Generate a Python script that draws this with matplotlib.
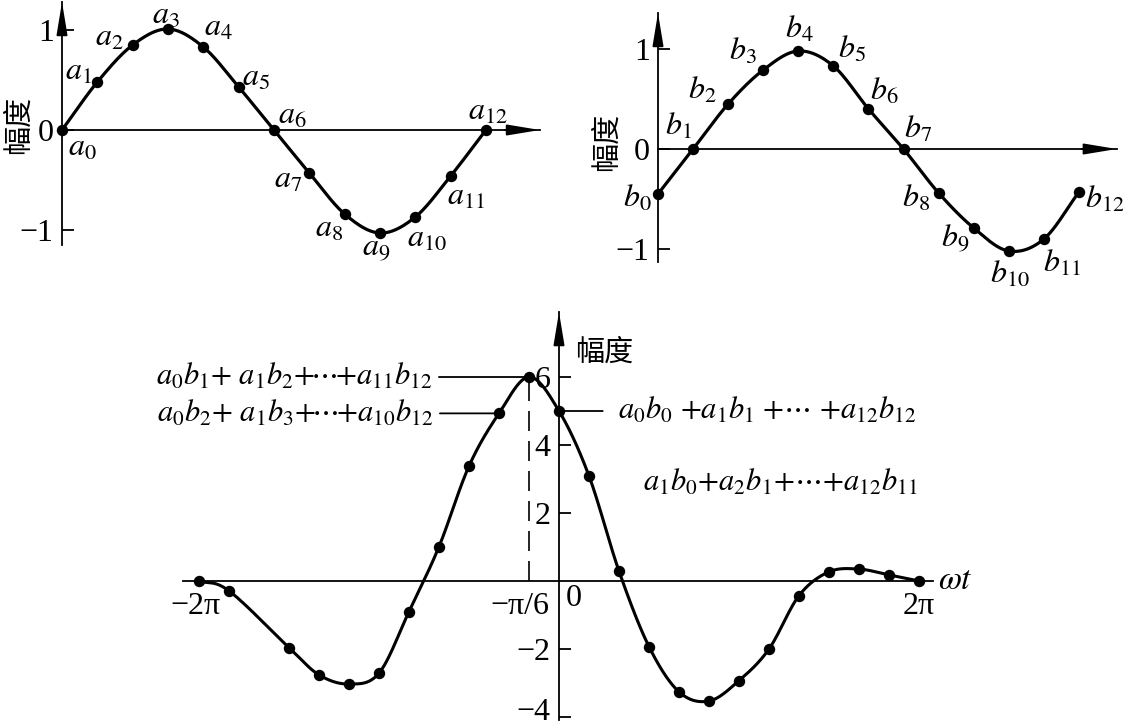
import numpy as np
import matplotlib
matplotlib.use('Agg')
import matplotlib.pyplot as plt
from matplotlib.transforms import ScaledTranslation

plt.rcParams['font.family'] = ['Liberation Serif', 'Noto Sans CJK SC']
plt.rcParams['mathtext.fontset'] = 'stix'

# sampled signals (13 samples over one period)
a_vals = [0.0, 0.48, 0.85, 1.01, 0.83, 0.43, 0.0, -0.43, -0.84, -1.03, -0.87, -0.46, 0.0]
b_vals = [-0.45, 0.0, 0.45, 0.79, 0.98, 0.83, 0.40, 0.0, -0.44, -0.79, -1.02, -0.90, -0.43]

# cross-correlation, lag in steps of pi/6
lag_steps = [-12, -11, -9, -8, -7, -6, -5, -4, -3, -2, -1, 0,
             1, 2, 3, 4, 5, 6, 7, 8, 9, 10, 11, 12]
corr_vals = [0.0, -0.29, -1.96, -2.76, -3.03, -2.71, -0.9, 1.01, 3.38, 4.93, 6.0, 5.0,
             3.09, 0.29, -1.93, -3.26, -3.53, -2.93, -2.0, -0.43, 0.27, 0.35, 0.18, 0.0]

top_yticks = [-1, 0, 1]
bottom_yticks = [-4, -2, 2, 4, 6]
bottom_xticks = [-2 * np.pi, -np.pi / 6, 2 * np.pi]
bottom_xlabels = ['−2π', '−π/6', '2π']
ylabel_text = '幅度'

sum_peak = r'$a_0b_1{+}\ a_1b_2{+}\!\cdots\!{+}a_{11}b_{12}$'
sum_lag2 = r'$a_0b_2{+}\ a_1b_3{+}\!\cdots\!{+}a_{10}b_{12}$'
sum_zero = r'$a_0b_0\ {+}a_1b_1\ {+}\cdots\ {+}a_{12}b_{12}$'
sum_next = r'$a_1b_0{+}a_2b_1{+}\cdots{+}a_{12}b_{11}$'

# label offsets in pixels (dx, dy up)
a_offsets = [(20, -18), (-19, 10), (-23, 7), (-2, 13), (15, 19), (17, 9), (18, 14),
             (-21, -7), (-16, -15), (-4, -17), (12, -22), (15, -21), (2, 18)]
b_offsets = [(-21, -5), (-15, 22), (-26, 13), (-20, 18), (1, 21), (19, 16), (16, 17),
             (14, 19), (-23, -6), (-19, -11), (1, -24), (18, -25), (26, -8)]

W, H = 1123, 725
FS = 23
FS_SUM = 22
FS_CJK = 21
fig = plt.figure(figsize=(W / 100, H / 100), dpi=100)


def smooth(x, y, n=24):
    # catmull-rom through the points
    p = np.column_stack([x, y]).astype(float)
    p = np.vstack([2 * p[0] - p[1], p, 2 * p[-1] - p[-2]])
    t = np.linspace(0, 1, n, endpoint=False)[:, None]
    out = []
    for i in range(1, len(p) - 2):
        p0, p1, p2, p3 = p[i - 1], p[i], p[i + 1], p[i + 2]
        seg = 0.5 * (2 * p1 + (-p0 + p2) * t + (2 * p0 - 5 * p1 + 4 * p2 - p3) * t ** 2
                     + (-p0 + 3 * p1 - 3 * p2 + p3) * t ** 3)
        out.append(seg)
    out.append(p[-2][None])
    out = np.vstack(out)
    return out[:, 0], out[:, 1]


def make_axes(box, origin, scale):
    x0, y0, x1, y1 = box
    ox, oy = origin
    sx, sy = scale
    ax = fig.add_axes([x0 / W, 1 - y1 / H, (x1 - x0) / W, (y1 - y0) / H])
    ax.set_xlim((x0 - ox) / sx, (x1 - ox) / sx)
    ax.set_ylim((oy - y1) / sy, (oy - y0) / sy)
    ax.patch.set_visible(False)
    ax.spines['top'].set_visible(False)
    ax.spines['right'].set_visible(False)
    ax.spines['left'].set_position(('data', 0))
    ax.spines['bottom'].set_position(('data', 0))
    for s in ['left', 'bottom']:
        ax.spines[s].set_linewidth(1.3)
    ax.tick_params(axis='y', direction='in', length=8.5, width=1.3, pad=6, labelsize=FS)
    ax.tick_params(axis='x', length=0, labelsize=FS)
    return ax


def arrow(ax, start, end):
    ax.annotate('', xy=end, xytext=start,
                arrowprops=dict(arrowstyle='-|>,head_length=2.0,head_width=0.33',
                                mutation_scale=10, lw=1.3, color='k',
                                shrinkA=0, shrinkB=0))


def shift(label, dx, dy):
    label.set_transform(label.get_transform() + ScaledTranslation(dx / 100, dy / 100, fig.dpi_scale_trans))


def sample_panel(ax, vals, name, offsets, xend, ylo, yhi):
    idx = np.arange(len(vals))
    sx, sy = smooth(idx, vals)
    ax.plot(sx, sy, color='k', lw=2.3, clip_on=False)
    ax.plot(idx, vals, 'o', color='k', ms=7.2, clip_on=False)
    ax.spines['left'].set_bounds(ylo, yhi)
    ax.spines['bottom'].set_bounds(0, xend)
    arrow(ax, (0, yhi - 0.3), (0, yhi))
    arrow(ax, (xend - 1, 0), (xend, 0))
    ax.set_xticks([])
    ax.set_yticks(top_yticks)
    ax.set_yticklabels(['−1', '0', '1'])
    for k, (v, off) in enumerate(zip(vals, offsets)):
        ax.annotate(rf'${name}_{{{k}}}$', xy=(k, v), xytext=off, textcoords='offset pixels',
                    ha='center', va='center', fontsize=FS)


# top left: a samples
ax1 = make_axes((40, 0, 560, 260), (62, 130), (35.33, 100))
sample_panel(ax1, a_vals, 'a', a_offsets, 13.53, -1.15, 1.28)
fig.text(19 / W, 1 - 125 / H, ylabel_text, rotation=90, ha='center', va='center', fontsize=FS_CJK)

# top right: b samples
ax2 = make_axes((630, 0, 1123, 300), (658, 149), (35.08, 100))
sample_panel(ax2, b_vals, 'b', b_offsets, 13.08, -1.13, 1.36)
fig.text(607 / W, 1 - 142 / H, ylabel_text, rotation=90, ha='center', va='center', fontsize=FS_CJK)

# bottom: correlation
step = np.pi / 6
ax3 = make_axes((150, 300, 960, 725), (559, 581), (30 / step, 34))
lag = np.array(lag_steps) * step
cx, cy = smooth(lag, corr_vals)
ax3.plot(cx, cy, color='k', lw=2.2, clip_on=False)
ax3.plot(lag, corr_vals, 'o', color='k', ms=7.2, clip_on=False)
ax3.spines['left'].set_bounds(-4.09, 7.91)
ax3.spines['bottom'].set_bounds(-2 * np.pi - 0.28, 2 * np.pi + 0.24)
arrow(ax3, (0, 7.0), (0, 7.91))
ax3.set_yticks(bottom_yticks)
ax3.set_yticklabels([str(v).replace('-', '−') for v in bottom_yticks])
ax3.set_xticks(bottom_xticks)
ax3.set_xticklabels(bottom_xlabels)
ax3.tick_params(axis='x', pad=8)
shift(ax3.get_xticklabels()[1], -9, 0)
shift(ax3.get_xticklabels()[0], -4, 0)
shift(ax3.get_yticklabels()[0], 0, 8)

ipk = lag_steps.index(-1)
ax3.plot([lag[ipk], lag[ipk]], [0, corr_vals[ipk]], color='k', lw=1.2, ls=(0, (12, 6)))

ax3.annotate('0', xy=(0, 0), xytext=(15, -18), textcoords='offset pixels',
             ha='center', va='center', fontsize=FS)
ax3.annotate(r'$\omega t$', xy=(2 * np.pi, 0), xytext=(19, 0), textcoords='offset pixels',
             ha='left', va='center', fontsize=FS + 1)
fig.text(575 / W, 1 - 353 / H, ylabel_text, ha='left', va='center', fontsize=FS_CJK)

lead = dict(arrowstyle='-', lw=1.3, color='k', shrinkB=0)
ax3.annotate(sum_peak, xy=(lag[ipk], corr_vals[ipk]), xytext=(-97, 0), textcoords='offset pixels',
             ha='right', va='center', fontsize=FS_SUM,
             arrowprops=dict(lead, relpos=(1, 0.5), shrinkA=3))
i2 = lag_steps.index(-2)
ax3.annotate(sum_lag2, xy=(lag[i2], corr_vals[i2]), xytext=(-66, 0), textcoords='offset pixels',
             ha='right', va='center', fontsize=FS_SUM,
             arrowprops=dict(lead, relpos=(1, 0.5), shrinkA=3))
i0 = lag_steps.index(0)
ax3.annotate(sum_zero, xy=(0, corr_vals[i0]), xytext=(59, 0), textcoords='offset pixels',
             ha='left', va='center', fontsize=FS_SUM,
             arrowprops=dict(lead, relpos=(0, 0.5), shrinkA=9))
i1 = lag_steps.index(1)
ax3.annotate(sum_next, xy=(lag[i1], corr_vals[i1]), xytext=(54, -7), textcoords='offset pixels',
             ha='left', va='center', fontsize=FS_SUM)

fig.savefig('out.png', dpi=100)
